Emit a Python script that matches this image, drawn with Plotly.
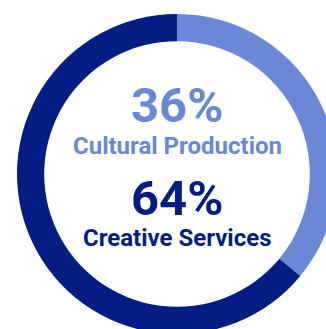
import plotly.graph_objects as go

# Share of the sector by activity type
categories = ["Cultural Production", "Creative Services"]
shares = [36, 64]
colors = ["#6a88d8", "#031d84"]

W, H = 337, 334
L, T = 17, 14
PLOT_H = H - T


def py(ypix):
    """Convert a pixel row (from top of page) to paper y."""
    return (H - ypix) / PLOT_H


fig = go.Figure(
    go.Pie(
        labels=categories,
        values=shares,
        hole=0.83,
        sort=False,
        direction="clockwise",
        rotation=0,
        marker=dict(colors=colors, line=dict(width=0)),
        textinfo="none",
        hoverinfo="label+percent",
        showlegend=False,
    )
)

font_family = "Roboto, Arial, sans-serif"
lines = [
    (f"{shares[0]}%", 49, colors[0], 105.5),
    (categories[0], 24, colors[0], 145.5),
    (f"{shares[1]}%", 49, colors[1], 198.5),
    (categories[1], 24, colors[1], 237.5),
]
for text, size, col, ycen in lines:
    fig.add_annotation(
        text=f"<b>{text}</b>",
        x=0.5,
        y=py(ycen),
        xref="paper",
        yref="paper",
        xanchor="center",
        yanchor="middle",
        showarrow=False,
        font=dict(family=font_family, size=size, color=col),
    )

fig.update_layout(
    width=W,
    height=H,
    margin=dict(l=L, r=0, t=T, b=0, pad=0),
    paper_bgcolor="white",
    plot_bgcolor="white",
)

fig.write_html(
    "out.html",
    config={"displayModeBar": False},
    post_script=(
        "document.documentElement.style.overflow='hidden';"
        "document.body.style.overflow='hidden';"
        "document.body.style.margin='0';"
    ),
)
